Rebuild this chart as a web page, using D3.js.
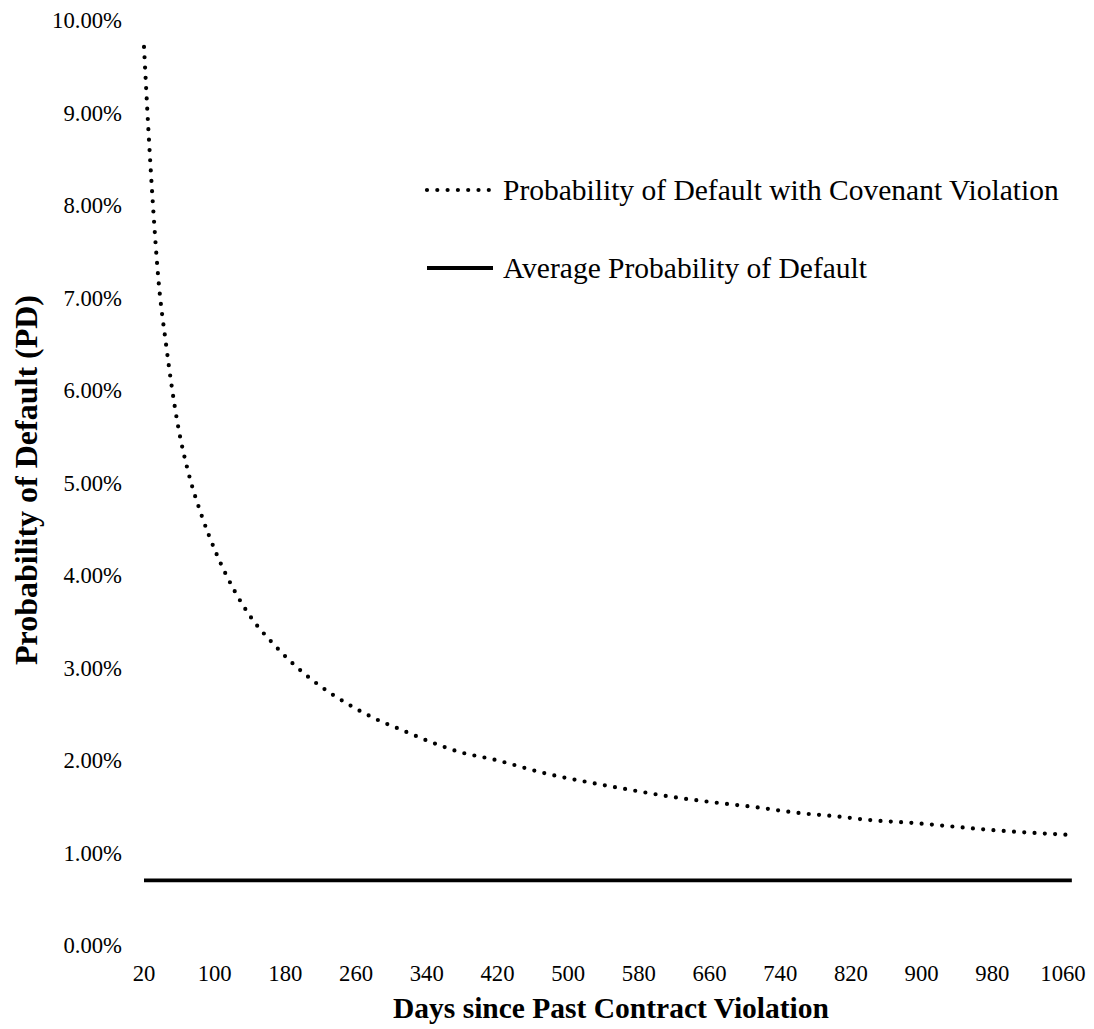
<!DOCTYPE html>
<html>
<head>
<meta charset="utf-8">
<script src="https://cdn.jsdelivr.net/npm/d3@7"></script>
<style>
  html, body { margin: 0; padding: 0; background: #fff; }
  svg { display: block; font-family: "Liberation Serif", "Times New Roman", serif; }
</style>
</head>
<body>
<svg id="chart" width="1094" height="1029"></svg>
<script>
// days since the violation
const days = [20, 25, 30, 36, 45, 58, 71, 85, 102, 123, 142, 165, 190, 218, 250, 281, 313, 346, 380, 414,
  477, 523, 569, 619, 667, 713, 759, 805, 843, 890, 937, 984, 1032, 1070];
// PD with covenant violation, in percent
const pdViolation = [9.72, 8.82, 8.03, 7.24, 6.5, 5.65, 5.09, 4.66, 4.24, 3.83, 3.54, 3.28, 3.04, 2.82, 2.62, 2.46, 2.33, 2.2, 2.09, 2.02,
  1.86, 1.77, 1.69, 1.61, 1.55, 1.5, 1.44, 1.4, 1.36, 1.33, 1.29, 1.25, 1.22, 1.2];
// flat average PD, in percent
const avgDays = [20, 1070];
const pdAverage = [0.71, 0.71];

const xTicks = [20, 100, 180, 260, 340, 420, 500, 580, 660, 740, 820, 900, 980, 1060];
const yTicks = [0, 1, 2, 3, 4, 5, 6, 7, 8, 9, 10];

const seriesNames = ["Probability of Default with Covenant Violation", "Average Probability of Default"];
const xTitle = "Days since Past Contract Violation";
const yTitle = "Probability of Default (PD)";

const svg = d3.select("#chart");

const x = d3.scaleLinear().domain([20, 1060]).range([144, 1063]);
const y = d3.scaleLinear().domain([0, 10]).range([946, 21]);

const tickFont = 22.7;
const legendFont = 29.5;
const xTitleFont = 29.5;
const yTitleFont = 32;

// y tick labels (no axis line, no gridlines)
svg.append("g")
  .selectAll("text")
  .data(yTicks)
  .join("text")
  .attr("x", 122)
  .attr("y", (d) => y(d))
  .attr("dy", "0.33em")
  .attr("text-anchor", "end")
  .attr("font-size", tickFont)
  .attr("fill", "#000")
  .text((d) => d.toFixed(2) + "%");

// x tick labels
svg.append("g")
  .selectAll("text")
  .data(xTicks)
  .join("text")
  .attr("x", (d) => x(d))
  .attr("y", 981)
  .attr("text-anchor", "middle")
  .attr("font-size", tickFont)
  .attr("fill", "#000")
  .text((d) => d);

const line = d3.line()
  .x((d) => x(d[0]))
  .y((d) => y(d[1]))
  .curve(d3.curveMonotoneX);

const dotStyle = (sel) => sel
  .attr("fill", "none")
  .attr("stroke", "#000")
  .attr("stroke-width", 4.2)
  .attr("stroke-linecap", "round")
  .attr("stroke-dasharray", "0 10.3");

const solidStyle = (sel) => sel
  .attr("fill", "none")
  .attr("stroke", "#000")
  .attr("stroke-width", 3.8);

svg.append("path")
  .datum(avgDays.map((d, i) => [d, pdAverage[i]]))
  .attr("d", line)
  .call(solidStyle);

svg.append("path")
  .datum(days.map((d, i) => [d, pdViolation[i]]))
  .attr("d", line)
  .call(dotStyle);

// legend
const legend = svg.append("g");
const legendRows = [
  { name: seriesNames[0], y: 190, style: dotStyle },
  { name: seriesNames[1], y: 268, style: solidStyle },
];
legendRows.forEach((row) => {
  legend.append("path")
    .attr("d", `M427,${row.y}H493`)
    .call(row.style);
  legend.append("text")
    .attr("x", 503)
    .attr("y", row.y)
    .attr("dy", "0.33em")
    .attr("font-size", legendFont)
    .attr("fill", "#000")
    .text(row.name);
});

// axis titles
svg.append("text")
  .attr("x", 611)
  .attr("y", 1018)
  .attr("text-anchor", "middle")
  .attr("font-size", xTitleFont)
  .attr("font-weight", "bold")
  .attr("fill", "#000")
  .text(xTitle);

svg.append("text")
  .attr("transform", "translate(37,480) rotate(-90)")
  .attr("text-anchor", "middle")
  .attr("font-size", yTitleFont)
  .attr("font-weight", "bold")
  .attr("fill", "#000")
  .text(yTitle);
</script>
</body>
</html>
